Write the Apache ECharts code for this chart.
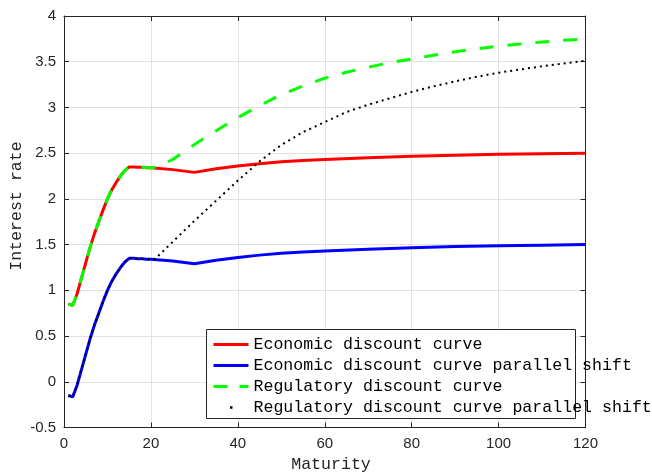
<!DOCTYPE html>
<html>
<head>
<meta charset="utf-8">
<script src="https://cdn.jsdelivr.net/npm/echarts@6/dist/echarts.min.js"></script>
<style>
html,body{margin:0;padding:0;background:#fff;}
#chart{width:652px;height:472px;}
</style>
</head>
<body>
<div id="chart"></div>
<script>
// ---- data ----
var ecoMaturities = [1,2,3,4,5,6,7,8,9,10,11,12,13,14,15,16,17,18,19,20,25,30,35,40,45,50,55,60,70,80,90,100,110,120];
var ecoRates      = [0.85,0.835,0.96,1.13,1.30,1.47,1.62,1.75,1.88,2.00,2.10,2.18,2.25,2.31,2.35,2.35,2.345,2.345,2.34,2.34,2.32,2.29,2.33,2.36,2.385,2.405,2.42,2.43,2.45,2.465,2.478,2.487,2.494,2.50];
var ecoShiftRates = [-0.15,-0.165,-0.04,0.13,0.30,0.47,0.62,0.75,0.88,1.00,1.10,1.18,1.25,1.31,1.35,1.35,1.345,1.345,1.34,1.34,1.32,1.29,1.33,1.36,1.385,1.405,1.42,1.43,1.45,1.465,1.478,1.487,1.494,1.50];

var regMaturities = [1,2,3,4,5,6,7,8,9,10,11,12,13,14,15,16,17,18,19,20,21,25,30,35,40,45,50,55,60,65,70,75,80,85,90,95,100,105,110,115,120];
var regRates      = [0.85,0.835,0.96,1.13,1.30,1.47,1.62,1.75,1.88,2.00,2.10,2.18,2.25,2.31,2.35,2.35,2.345,2.345,2.34,2.34,2.345,2.43,2.595,2.745,2.89,3.02,3.14,3.235,3.32,3.385,3.44,3.49,3.53,3.57,3.61,3.64,3.67,3.695,3.715,3.735,3.75];
var regShiftRates = [-0.15,-0.165,-0.04,0.13,0.30,0.47,0.62,0.75,0.88,1.00,1.10,1.18,1.25,1.31,1.35,1.35,1.345,1.345,1.34,1.34,1.345,1.53,1.76,1.98,2.20,2.41,2.59,2.73,2.84,2.95,3.03,3.10,3.17,3.23,3.285,3.335,3.38,3.415,3.45,3.48,3.51];

var xTicks = [0,20,40,60,80,100,120];
var yTicks = [-0.5,0,0.5,1,1.5,2,2.5,3,3.5,4];

var seriesNames = ['Economic discount curve','Economic discount curve parallel shift','Regulatory discount curve','Regulatory discount curve parallel shift'];

function pairs(xs, ys){ return xs.map(function(x,i){ return [x, ys[i]]; }); }

var axisColor = '#262626';
var gridColor = '#e2e2e2';
var labelFont = 'Liberation Sans, Arial, sans-serif';
var monoFont = 'Liberation Mono, Courier New, monospace';

function xAxisDef(pos, showLabel){
  return {
    type:'value', position: pos, min: xTicks[0], max: xTicks[xTicks.length-1], interval: 20,
    axisLine:{show:true, onZero:false, lineStyle:{color:axisColor, width:1}},
    axisTick:{show:true, inside:true, length:5, lineStyle:{color:axisColor}},
    axisLabel:{show:showLabel, color:axisColor, fontSize:15, fontFamily:labelFont, margin:9},
    splitLine:{show:showLabel, lineStyle:{color:gridColor, width:1}}
  };
}
function yAxisDef(pos, showLabel){
  return {
    type:'value', position: pos, min: yTicks[0], max: yTicks[yTicks.length-1], interval: 0.5,
    axisLine:{show:true, onZero:false, lineStyle:{color:axisColor, width:1}},
    axisTick:{show:true, inside:true, length:5, lineStyle:{color:axisColor}},
    axisLabel:{show:showLabel, color:axisColor, fontSize:15, fontFamily:labelFont, margin:8},
    splitLine:{show:showLabel, lineStyle:{color:gridColor, width:1}}
  };
}

var chart = echarts.init(document.getElementById('chart'), null, {renderer:'canvas'});
chart.setOption({
  animation:false,
  backgroundColor:'#fff',
  grid:{left:64, top:16, width:521.5, height:411.5, containLabel:false},
  xAxis:[xAxisDef('bottom', true), xAxisDef('top', false)],
  yAxis:[yAxisDef('left', true), yAxisDef('right', false)],
  legend:{
    left:207, top:331, padding:5, orient:'vertical', itemWidth:35, itemHeight:14, itemGap:4,
    textStyle:{fontFamily:monoFont, fontSize:16.6, lineHeight:14, color:'#000'},
    itemStyle:{opacity:0},
    data:[
      {name:seriesNames[0], lineStyle:{width:3}},
      {name:seriesNames[1], lineStyle:{width:3}},
      {name:seriesNames[2], lineStyle:{width:3, type:[14,12]}},
      {name:seriesNames[3], lineStyle:{width:2.5, type:[0.01,16.5,2.5,100]}}
    ],
    selectedMode:false
  },
  graphic:[
    {type:'rect', z:3, shape:{x:206.5, y:329.5, width:369, height:89}, style:{fill:'#fff', stroke:axisColor, lineWidth:1}},
    {type:'text', z:5, x:331, y:465, style:{text:'Maturity', font:'16.6px ' + monoFont, fill:axisColor, textAlign:'center', textVerticalAlign:'middle'}},
    {type:'text', z:5, x:17, y:206, rotation:Math.PI/2, style:{text:'Interest rate', font:'16.6px ' + monoFont, fill:axisColor, textAlign:'center', textVerticalAlign:'middle'}}
  ],
  series:[
    {name:seriesNames[0], type:'line', data:pairs(ecoMaturities, ecoRates), symbol:'none', lineStyle:{color:'#ff0000', width:3}, itemStyle:{color:'#ff0000'}, z:2},
    {name:seriesNames[1], type:'line', data:pairs(ecoMaturities, ecoShiftRates), symbol:'none', lineStyle:{color:'#0000ff', width:3}, itemStyle:{color:'#0000ff'}, z:2},
    {name:seriesNames[2], type:'line', data:pairs(regMaturities, regRates), symbol:'none', lineStyle:{color:'#00ff00', width:3, type:[14,14]}, itemStyle:{color:'#00ff00'}, z:2},
    {name:seriesNames[3], type:'line', data:pairs(regMaturities, regShiftRates), symbol:'none', lineStyle:{color:'#000000', width:2, type:[2,4]}, itemStyle:{color:'#000000'}, z:2}
  ]
});
</script>
</body>
</html>
